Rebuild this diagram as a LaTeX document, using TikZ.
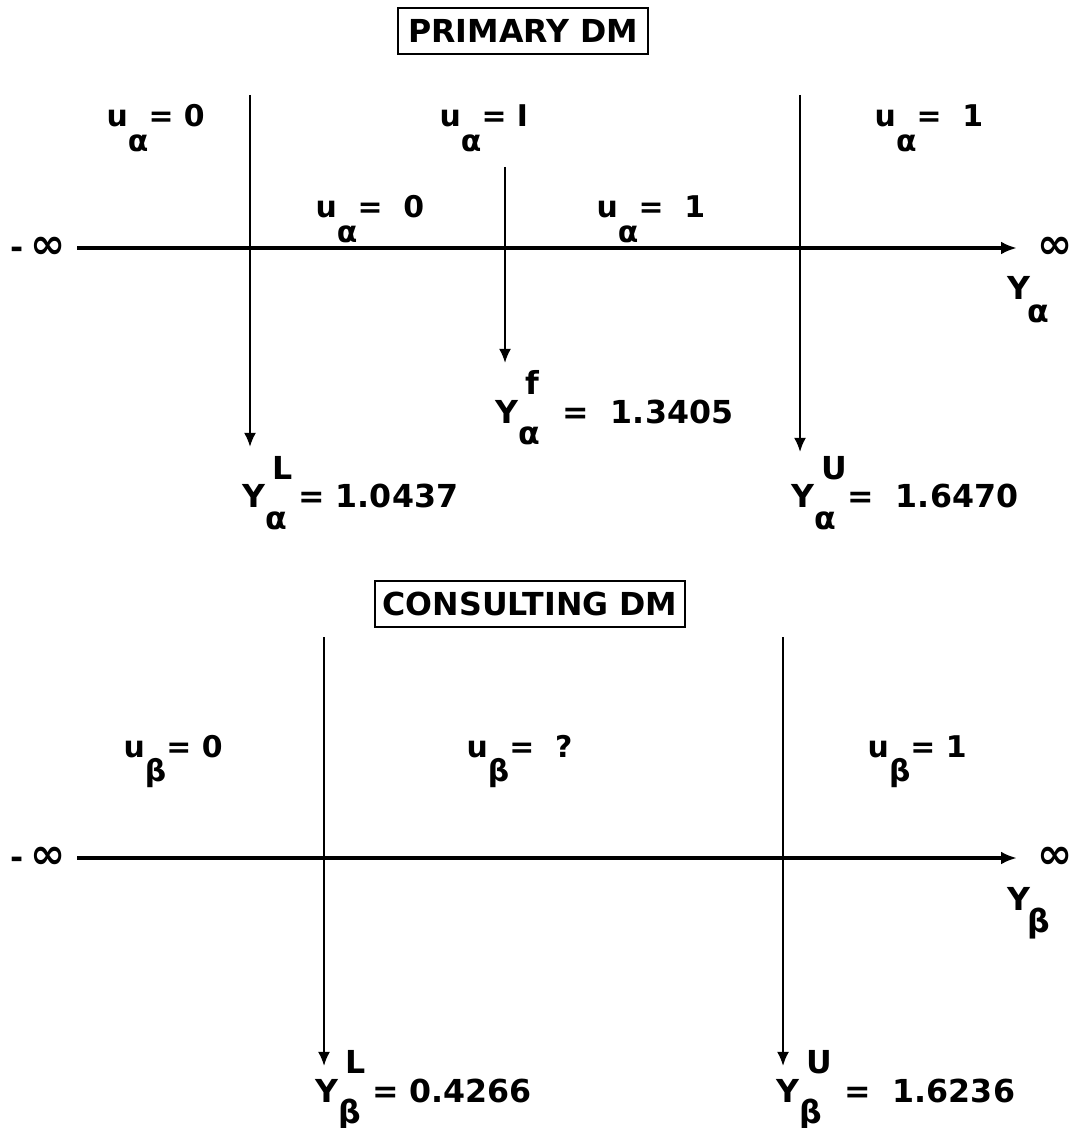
\documentclass[tikz,border=0pt]{standalone}
\usepackage{fontspec}
\setmainfont{DejaVu Sans}
\usetikzlibrary{positioning,arrows.meta}
\newcommand{\lowsub}[1]{\raisebox{-1.5ex}{#1}}
\newcommand{\supsub}[2]{\rlap{\hspace{2pt}\raisebox{1.65ex}{#1}}\raisebox{-1.25ex}{#2}}
\newcommand{\minf}{{\fontsize{9}{11}\selectfont -}\,∞}
\tikzset{
  dm box/.style={draw,line width=.7pt,font=\fontsize{9}{11}\selectfont\bfseries,
    minimum height=.46cm,inner sep=0pt},
  region label/.style={font=\fontsize{8.5}{10}\selectfont\bfseries,anchor=base west,inner sep=0pt},
  value label/.style={font=\fontsize{9}{11}\selectfont\bfseries,anchor=base west,inner sep=0pt},
  inf label/.style={font=\fontsize{12}{14}\selectfont\bfseries,inner sep=0pt},
  axis arrow/.style={-{Latex[length=4.5pt,width=3.6pt]},line width=.9pt},
  cut arrow/.style={-{Latex[length=4pt,width=3.4pt]},line width=.6pt}
}
\begin{document}
\begin{tikzpicture}[x=0.01cm,y=-0.01cm]
  \useasboundingbox (0,0) rectangle (1072,1128);

  % primary decision maker
  \node[dm box,minimum width=2.5cm] (primary) at (523,31) {PRIMARY DM};
  \node[inf label] (minfA) at (38,248) {\minf};
  \node[inf label] (infA) at (1055,248) {∞};
  \coordinate (axA start) at (77,248);
  \coordinate (axA end) at (1017,248);
  \draw[axis arrow] (axA start) -- (axA end);
  \node[value label] (yA) at (1007,300) {Y\kern-1pt\raisebox{-1.3ex}{α}};

  \coordinate (cutAL top) at (250,95);
  \coordinate (cutAL tip) at (250,447);
  \coordinate (cutAF top) at (505,167);
  \coordinate (cutAF tip) at (505,363);
  \coordinate (cutAU top) at (800,95);
  \coordinate (cutAU tip) at (800,452);
  \draw[cut arrow] (cutAL top) -- (cutAL tip);
  \draw[cut arrow] (cutAF top) -- (cutAF tip);
  \draw[cut arrow] (cutAU top) -- (cutAU tip);

  \node[region label] (uA0) at (106,127) {u\lowsub{α}= 0};
  \node[region label] (uAI) at (439,127) {u\lowsub{α}= I};
  \node[region label] (uA1) at (874,127) {u\lowsub{α}= \ 1};
  \node[region label] (uA0f) at (315,218) {u\lowsub{α}= \ 0};
  \node[region label] (uA1f) at (596,218) {u\lowsub{α}= \ 1};

  \node[value label] (yAL) at (242,508) {Y\supsub{L}{α} = 1.0437};
  \node[value label] (yAF) at (495,423) {Y\supsub{f}{α}\ \ = \ 1.3405};
  \node[value label] (yAU) at (791,508) {Y\supsub{U}{α} = \ 1.6470};

  % consulting decision maker
  \node[dm box,minimum width=3.1cm] (consult) at (530,604) {CONSULTING DM};
  \node[inf label] (minfB) at (38,858) {\minf};
  \node[inf label] (infB) at (1055,858) {∞};
  \coordinate (axB start) at (77,858);
  \coordinate (axB end) at (1017,858);
  \draw[axis arrow] (axB start) -- (axB end);
  \node[value label] (yB) at (1007,910) {Y\kern-1pt\raisebox{-1.3ex}{β}};

  \coordinate (cutBL top) at (324,637);
  \coordinate (cutBL tip) at (324,1066);
  \coordinate (cutBU top) at (783,637);
  \coordinate (cutBU tip) at (783,1066);
  \draw[cut arrow] (cutBL top) -- (cutBL tip);
  \draw[cut arrow] (cutBU top) -- (cutBU tip);

  \node[region label] (uB0) at (123,757) {u\lowsub{β}= 0};
  \node[region label] (uBq) at (466,757) {u\lowsub{β}= \ ?};
  \node[region label] (uB1) at (867,757) {u\lowsub{β}= 1};

  \node[value label] (yBL) at (315,1102) {Y\supsub{L}{β} = 0.4266};
  \node[value label] (yBU) at (776,1102) {Y\supsub{U}{β}\ \ = \ 1.6236};
\end{tikzpicture}
\end{document}
